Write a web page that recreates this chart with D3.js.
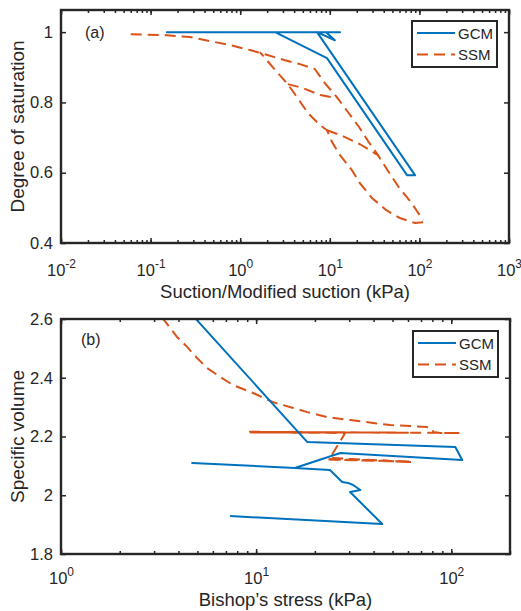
<!DOCTYPE html>
<html>
<head>
<meta charset="utf-8">
<script src="https://cdn.jsdelivr.net/npm/d3@7"></script>
<style>
body { margin: 0; background: #fff; }
text { font-family: "Liberation Sans", Arial, sans-serif; fill: #262626; }
</style>
</head>
<body>
<svg id="chart" width="521" height="611"></svg>
<script>
const BLUE = "#0072BD";
const ORANGE = "#D95319";
const INK = "#262626";
const DASH = "11,6";

// (a) degree of saturation vs suction, [suction kPa, Sr]
const gcmA = [[0.149, 1], [13.0, 1], [9.1, 1], [11.4, 0.977], [7.2, 1], [89.3, 0.593],
              [72.7, 0.593], [9.3, 0.926], [2.45, 1]];
const ssmDrying = [[0.060, 0.994], [0.152, 0.991], [0.275, 0.986], [0.77, 0.963], [1.29, 0.949],
                   [1.89, 0.937], [3.16, 0.920], [4.65, 0.909], [6.8, 0.895], [8.8, 0.855],
                   [12.0, 0.815], [16.0, 0.772], [21.2, 0.730], [26.7, 0.690], [34.5, 0.650],
                   [44.7, 0.605], [57.7, 0.562], [80.6, 0.516], [110, 0.465]];
const ssmWetting = [[110, 0.459], [89.3, 0.457], [60.7, 0.471], [42.4, 0.494], [29.6, 0.528],
                    [21.7, 0.570], [17.7, 0.607], [13.0, 0.650], [10.6, 0.687], [9.3, 0.721],
                    [7.8, 0.735], [5.7, 0.770], [4.3, 0.815], [3.4, 0.852], [2.58, 0.886],
                    [1.66, 0.943]];
const ssmScan1 = [[3.4, 0.852], [5.0, 0.841], [7.8, 0.821], [12.0, 0.812]];
const ssmScan2 = [[9.3, 0.721], [14.0, 0.704], [21.7, 0.681], [34.5, 0.650]];

// (b) specific volume vs Bishop's stress, [stress kPa, v]
const gcmB = [[4.2, 2.65], [18.3, 2.181], [104.9, 2.164], [113.8, 2.120], [27.0, 2.144],
              [15.8, 2.093], [4.70, 2.110], [15.8, 2.093], [23.9, 2.086], [27.6, 2.045],
              [29.6, 2.042], [31.4, 2.035], [34.2, 2.018], [30.3, 2.011], [44.3, 1.902],
              [7.36, 1.929]];
const ssmB = [[2.9, 2.65], [3.34, 2.6], [3.93, 2.539], [4.43, 2.505], [4.98, 2.467], [5.61, 2.433],
              [6.54, 2.403], [7.62, 2.375], [9.65, 2.348], [12.2, 2.317], [15.5, 2.297],
              [18.3, 2.283], [23.1, 2.266], [30.4, 2.256], [39.8, 2.246], [48.7, 2.239],
              [61.6, 2.236], [75.3, 2.232], [79.9, 2.226], [80.9, 2.215], [87.8, 2.212],
              [111.2, 2.212], [9.3, 2.216], [60, 2.213], [9.4, 2.214], [28.6, 2.212],
              [23.9, 2.127], [63.1, 2.113], [22.9, 2.123], [62, 2.115], [23.5, 2.121]];

const yTicksA = [0.4, 0.6, 0.8, 1];
const yTicksB = [1.8, 2, 2.2, 2.4, 2.6];
const legendNames = ["GCM", "SSM"];

var svg = d3.select("#chart");

function draw_panel(p) {
    var x = d3.scaleLog().domain(p.xDomain).range([p.left, p.right]);
    var y = d3.scaleLinear().domain(p.yDomain).range([p.bottom, p.top]);
    var g = svg.append("g");

    var minor = x.ticks();
    var major = minor.filter(v => Math.abs(Math.log10(v) - Math.round(Math.log10(v))) < 1e-9);

    // minor ticks, bottom and top
    [[d3.axisBottom, p.bottom], [d3.axisTop, p.top]].forEach(function(a) {
        g.append("g")
            .attr("transform", "translate(0," + a[1] + ")")
            .attr("color", INK)
            .call(a[0](x).tickValues(minor).tickSize(-3).tickFormat(""))
            .call(s => s.select(".domain").remove())
            .selectAll("line").attr("stroke-width", 1.5);
    });
    // major ticks with 10^n labels
    var xb = g.append("g")
        .attr("transform", "translate(0," + p.bottom + ")")
        .attr("color", INK)
        .style("font-size", "16.5px")
        .call(d3.axisBottom(x).tickValues(major).tickSize(-5))
        .call(s => s.select(".domain").remove());
    xb.selectAll("line").attr("stroke-width", 1.5);
    xb.selectAll(".tick text").each(function(d) {
        var t = d3.select(this);
        t.text(null).attr("y", p.labelOffset).attr("dy", null);
        t.append("tspan").text("10");
        t.append("tspan").attr("dy", -8.5).style("font-size", "12px").text(Math.round(Math.log10(d)));
    });
    g.append("g")
        .attr("transform", "translate(0," + p.top + ")")
        .attr("color", INK)
        .call(d3.axisTop(x).tickValues(major).tickSize(-5).tickFormat(""))
        .call(s => s.select(".domain").remove())
        .selectAll("line").attr("stroke-width", 1.5);

    // y axis
    var yl = g.append("g")
        .attr("transform", "translate(" + p.left + ",0)")
        .attr("color", INK)
        .style("font-size", "16.5px")
        .call(d3.axisLeft(y).tickValues(p.yTicks).tickSize(-5).tickPadding(8).tickFormat(d3.format("~g")))
        .call(s => s.select(".domain").remove());
    yl.selectAll("line").attr("stroke-width", 1.5);
    g.append("g")
        .attr("transform", "translate(" + p.right + ",0)")
        .attr("color", INK)
        .call(d3.axisRight(y).tickValues(p.yTicks).tickSize(-5).tickFormat(""))
        .call(s => s.select(".domain").remove())
        .selectAll("line").attr("stroke-width", 1.5);

    // data
    var clipId = "clip" + p.tag;
    svg.append("clipPath").attr("id", clipId).append("rect")
        .attr("x", p.left).attr("y", p.top)
        .attr("width", p.right - p.left).attr("height", p.bottom - p.top);
    var line = d3.line().x(d => x(d[0])).y(d => y(d[1]));
    var lines = svg.append("g").attr("clip-path", "url(#" + clipId + ")");
    p.series.forEach(function(s) {
        lines.append("path")
            .attr("d", line(s.data))
            .attr("fill", "none")
            .attr("stroke", s.color)
            .attr("stroke-width", 2)
            .attr("stroke-linejoin", "round")
            .attr("stroke-dasharray", s.dash ? DASH : null);
    });

    // box
    svg.append("rect")
        .attr("x", p.left).attr("y", p.top)
        .attr("width", p.right - p.left).attr("height", p.bottom - p.top)
        .attr("fill", "none").attr("stroke", INK).attr("stroke-width", 2.4);

    // panel tag
    svg.append("text")
        .attr("x", p.tagX).attr("y", p.tagY)
        .style("font-size", "16px")
        .text("(" + p.tag + ")");

    // axis titles
    svg.append("text")
        .attr("x", (p.left + p.right) / 2).attr("y", p.xTitleY)
        .attr("text-anchor", "middle")
        .style("font-size", "18.5px")
        .text(p.xTitle);
    svg.append("text")
        .attr("transform", "translate(24," + (p.top + p.bottom) / 2 + ") rotate(-90)")
        .attr("text-anchor", "middle")
        .style("font-size", "19px")
        .text(p.yTitle);

    // legend
    var lg = svg.append("g").attr("transform", "translate(" + p.legend[0] + "," + p.legend[1] + ")");
    lg.append("rect")
        .attr("width", 85).attr("height", 46)
        .attr("fill", "#fff").attr("stroke", INK).attr("stroke-width", 2);
    legendNames.forEach(function(name, i) {
        var ly = 12 + i * 21.5;
        lg.append("line")
            .attr("x1", 5).attr("x2", 43).attr("y1", ly).attr("y2", ly)
            .attr("stroke", i == 0 ? BLUE : ORANGE)
            .attr("stroke-width", 2)
            .attr("stroke-dasharray", i == 0 ? null : DASH);
        lg.append("text")
            .attr("x", 46).attr("y", ly + 5.5)
            .style("font-size", "15px")
            .text(name);
    });
}

draw_panel({
    tag: "a", left: 61, right: 509, top: 10, bottom: 243,
    xDomain: [0.01, 1000], yDomain: [0.4, 1.063], yTicks: yTicksA,
    labelOffset: 33, xTitleY: 297.5, tagX: 85, tagY: 38,
    xTitle: "Suction/Modified suction (kPa)", yTitle: "Degree of saturation",
    legend: [412, 21],
    series: [
        {data: ssmDrying, color: ORANGE, dash: true},
        {data: ssmWetting, color: ORANGE, dash: true},
        {data: ssmScan1, color: ORANGE, dash: true},
        {data: ssmScan2, color: ORANGE, dash: true},
        {data: gcmA, color: BLUE, dash: false}
    ]
});

draw_panel({
    tag: "b", left: 61, right: 510, top: 319, bottom: 554,
    xDomain: [1, 200], yDomain: [1.8, 2.6], yTicks: yTicksB,
    labelOffset: 30, xTitleY: 606, tagX: 81, tagY: 345,
    xTitle: "Bishop\u2019s stress (kPa)", yTitle: "Specific volume",
    legend: [413, 331],
    series: [
        {data: ssmB, color: ORANGE, dash: true},
        {data: gcmB, color: BLUE, dash: false}
    ]
});
</script>
</body>
</html>
